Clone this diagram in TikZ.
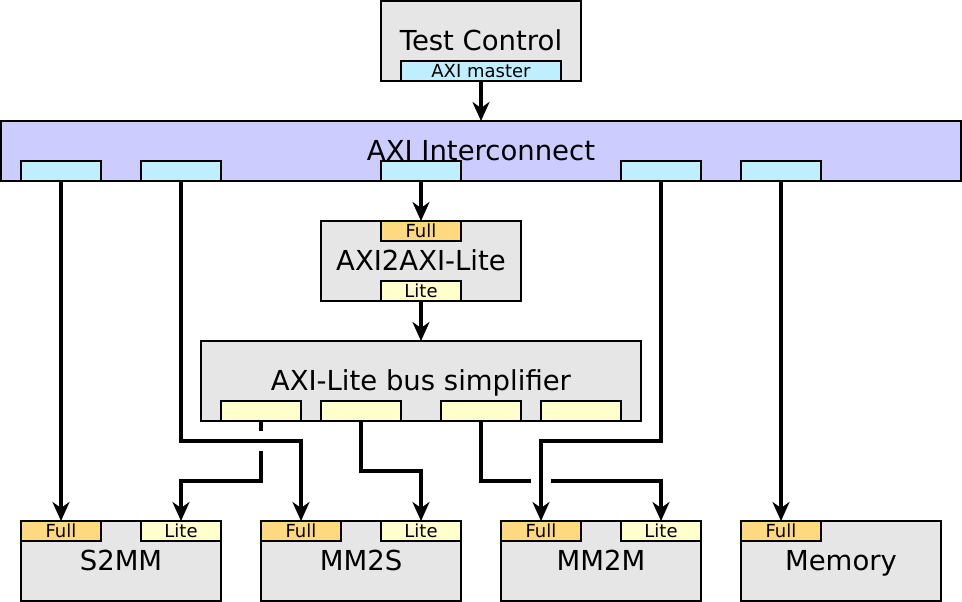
\documentclass[tikz,border=0pt]{standalone}
\usepackage{fontspec}
\setmainfont{DejaVu Sans}
\usetikzlibrary{arrows.meta}
\definecolor{blockgray}{RGB}{230,230,230}
\definecolor{axiblue}{RGB}{204,204,255}
\definecolor{mastercyan}{RGB}{191,238,255}
\definecolor{fullorange}{RGB}{255,217,128}
\definecolor{liteyellow}{RGB}{255,255,204}
\begin{document}
\begin{tikzpicture}[x=1pt, y=-1pt, >={Stealth[length=19pt,width=17pt,inset=6pt]},
  block/.style={draw, line width=2pt, fill=blockgray, minimum width=200pt, minimum height=80pt,
    inner sep=0pt, outer sep=0pt, font=\fontsize{27.5}{32}\selectfont, text height=19.5pt, text depth=0pt},
  mport/.style={draw, line width=2pt, fill=mastercyan, minimum width=80pt, minimum height=20pt,
    inner sep=0pt, outer sep=0pt, font=\fontsize{18}{20}\selectfont, text height=13pt, text depth=0pt},
  fport/.style={mport, fill=fullorange},
  lport/.style={mport, fill=liteyellow},
  wire/.style={line width=3.2pt}]
  \useasboundingbox (0,0) rectangle (962,602);
  % test control and interconnect
  \node[block] (tc) at (481,41) {Test Control};
  \node[mport, minimum width=160pt] (master) at (481,71) {AXI master};
  \node[block, fill=axiblue, minimum width=960pt, minimum height=60pt] (axi) at (481,151) {AXI Interconnect};
  \foreach \i/\x in {1/61,2/181,3/421,4/661,5/781}
    \node[mport] (ip\i) at (\x,171) {};
  % converter and simplifier
  \node[block] (a2l) at (421,261) {AXI2AXI-Lite};
  \node[fport] (a2lF) at (a2l.north) [anchor=north] {Full};
  \node[lport] (a2lL) at (a2l.south) [anchor=south] {Lite};
  \node[block, minimum width=440pt] (simp) at (421,381) {AXI-Lite bus simplifier};
  \foreach \i/\x in {1/261,2/361,3/481,4/581}
    \node[lport] (sp\i) at (\x,411) {};
  % slaves
  \node[block] (s2mm) at (121,561) {S2MM};
  \node[block] (mm2s) at (361,561) {MM2S};
  \node[block] (mm2m) at (601,561) {MM2M};
  \node[block] (mem) at (841,561) {Memory};
  \foreach \b in {s2mm,mm2s,mm2m,mem}
    \node[fport, anchor=north west] (\b F) at (\b.north west) {Full};
  \foreach \b in {s2mm,mm2s,mm2m}
    \node[lport, anchor=north east] (\b L) at (\b.north east) {Lite};
  % connections
  \draw[wire,->] (master.south) -- (axi.north);
  \draw[wire,->] (ip3.south) -- (a2lF.north);
  \draw[wire,->] (a2lL.south) -- (simp.north);
  \draw[wire,->] (ip1.south) -- (s2mmF.north);
  \draw[wire,->] (ip5.south) -- (memF.north);
  \draw[wire,->] (ip2.south) -- ++(0,260) -| (mm2sF.north);
  \draw[wire,->] (ip4.south) -- ++(0,260) -| (mm2mF.north);
  \draw[wire,->] (sp2.south) -- ++(0,50) -| (mm2sL.north);
  \draw[wire] (sp1.south) -- ++(0,10);
  \draw[wire,->] (sp1.south) ++(0,30) -- ++(0,30) -| (s2mmL.north);
  \draw[wire] (sp3.south) -- ++(0,60) -- ++(50,0);
  \draw[wire,->] (sp3.south) ++(70,60) -| (mm2mL.north);
\end{tikzpicture}
\end{document}
